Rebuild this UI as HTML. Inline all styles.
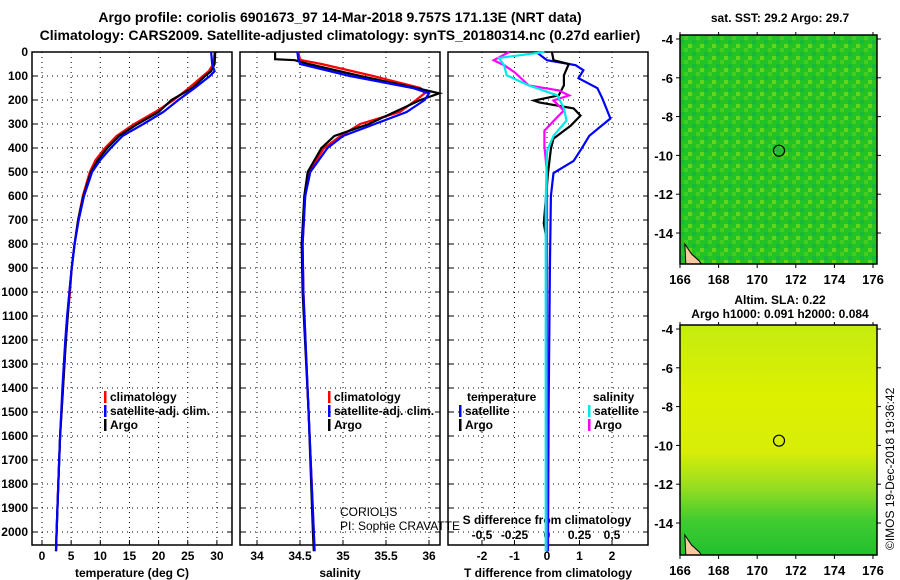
<!DOCTYPE html>
<html><head><meta charset="utf-8"><style>
body{margin:0;background:#fff}
svg{display:block;font-family:"Liberation Sans",sans-serif;font-weight:bold}
</style></head><body>
<svg id="s" width="900" height="580" viewBox="0 0 900 580" xmlns="http://www.w3.org/2000/svg">
<defs>
<linearGradient id="sla" x1="0" y1="0" x2="0" y2="1">
<stop offset="0" stop-color="#c4ec10"/><stop offset="0.3" stop-color="#dcf000"/><stop offset="0.55" stop-color="#d8ee08"/><stop offset="0.7" stop-color="#9ade20"/><stop offset="0.85" stop-color="#40cc30"/><stop offset="1" stop-color="#20c030"/>
</linearGradient>
<pattern id="sstp" width="12" height="12" patternUnits="userSpaceOnUse">
<rect width="12" height="12" fill="#22c322"/><rect x="0" y="0" width="4" height="4" fill="#44cc22"/><rect x="8" y="4" width="4" height="4" fill="#18b840"/><rect x="4" y="8" width="4" height="4" fill="#66d41c"/>
</pattern>
</defs>
<text x="340" y="22" text-anchor="middle" font-size="14">Argo profile: coriolis 6901673_97 14-Mar-2018 9.757S 171.13E (NRT data)</text>
<text x="340" y="40" text-anchor="middle" font-size="14">Climatology: CARS2009. Satellite-adjusted climatology: synTS_20180314.nc (0.27d earlier)</text>
<g id="g"></g>
</svg>
<script>
// depth axis
const depthTicks=[0,100,200,300,400,500,600,700,800,900,1000,1100,1200,1300,1400,1500,1600,1700,1800,1900,2000];
// temperature profiles
const tDepth=[0,50,80,100,150,200,250,300,350,400,450,500,600,700,800,900,1000,1100,1200,1400,1600,1800,2000,2080];
const tClim=[29.6,29.4,28.6,27.6,25.2,22.6,19.4,15.8,12.8,10.8,9.2,8.2,7.0,6.2,5.6,5.1,4.8,4.4,4.1,3.6,3.1,2.8,2.5,2.4];
const tSat=[29.0,29.2,29.6,28.8,26.2,23.4,20.8,17.4,13.8,11.8,10.0,8.6,7.2,6.3,5.6,5.1,4.7,4.3,4.0,3.5,3.1,2.8,2.5,2.4];
const tArgo=[29.7,29.6,29.0,28.0,25.8,22.2,20.0,16.4,13.2,11.2,9.6,8.4,7.1,6.2,5.6,5.1,4.7,4.4,4.1,3.6,3.1,2.8,2.5,2.4];
// salinity profiles
const sDepth=[0,30,34,50,100,150,172,200,250,300,350,400,500,600,800,1000,1500,2000,2080];
const sClim=[34.48,34.5,34.52,34.75,35.35,35.9,35.95,35.85,35.66,35.2,34.97,34.78,34.6,34.56,34.53,34.54,34.6,34.66,34.67];
const sSat=[34.47,34.48,34.49,34.5,35.08,35.81,36.0,35.95,35.74,35.37,35.0,34.82,34.62,34.56,34.53,34.54,34.6,34.66,34.67];
const sArgo=[34.21,34.21,34.44,34.6,35.2,35.85,36.12,35.9,35.6,35.3,34.9,34.75,34.59,34.55,34.52,34.53,34.6,34.65,34.66];
// difference profiles
const dTsDepth=[0,34,55,76,109,151,193,277,349,403,454,504,600,900,1500,2080];
const dTsat=[-0.33,0,0.88,1.12,0.97,1.55,1.7,1.95,1.3,1.06,0.82,0.2,0.12,0.09,0.05,0.03];
const dTaDepth=[0,34,50,97,139,181,202,210,235,265,307,361,403,504,714,790,1200,1700,2080];
const dTargo=[0.15,0.2,0.67,0.52,0.52,0.36,-0.4,-0.24,0.82,1.03,0.73,0.2,0.12,0.03,-0.1,0,0,-0.02,0];
const dSaDepth=[0,34,55,84,139,160,181,202,244,265,328,391,504,832,2080];
const dSargo=[-0.29,-0.41,-0.33,-0.25,-0.14,0.09,0.17,0.05,0.13,0.09,-0.02,-0.02,0,0,0];
const dSsDepth=[0,25,55,97,139,181,235,286,349,412,622,2080];
const dSsat=[-0.02,-0.37,-0.33,-0.31,-0.14,0.08,0.13,0.15,0.05,0,-0.01,-0.01];
const xTicksT=[0,5,10,15,20,25,30];
const xTicksS=[34,34.5,35,35.5,36];
const xTicksD=[-2,-1,0,1,2];
const xTicksDS=["-0,5","-0.25","0","0.25","0,5"];

const NS="http://www.w3.org/2000/svg",G=document.getElementById('g');
function el(t,a,p){const e=document.createElementNS(NS,t);for(const k in a)e.setAttribute(k,a[k]);(p||G).appendChild(e);return e;}
const yD=d=>52+d*0.24;
const TOP=52,BOT=545;
const panels=[{x0:32,x1:232,sx:v=>42+v*5.83},{x0:240,x1:440,sx:v=>257+(v-34)*86},{x0:448,x1:648,sx:v=>547+v*32.5}];
function frame(p,ticks,name){
  const g=el('g',{});
  ticks.forEach(t=>{const x=p.sx(t);const l=el('line',{x1:x,x2:x,y1:TOP,y2:BOT,stroke:'#000','stroke-dasharray':'1 4','stroke-width':1},g);
    const tk=el('line',{x1:x,x2:x,y1:BOT,y2:BOT-5,stroke:'#000'},g);});
  depthTicks.forEach(d=>{const y=yD(d);const l=el('line',{x1:p.x0,x2:p.x1,y1:y,y2:y,stroke:'#000','stroke-dasharray':'1 4'},g);
    el('line',{x1:p.x0,x2:p.x0+5,y1:y,y2:y,stroke:'#000'},g);el('line',{x1:p.x1,x2:p.x1-5,y1:y,y2:y,stroke:'#000'},g);});
  const r=el('rect',{x:p.x0,y:TOP,width:p.x1-p.x0,height:BOT-TOP,fill:'none',stroke:'#000','stroke-width':1.5},g);
  return g;
}
function line(p,depths,vals,col,name,w){
  const pts=depths.map((d,i)=>p.sx(vals[i]).toFixed(1)+','+yD(d).toFixed(1)).join(' ');
  const l=el('polyline',{points:pts,fill:'none',stroke:col,'stroke-width':w||2.2});
  
  
}
function txt(x,y,s,o,name){const t=el('text',Object.assign({x:x,y:y,'font-size':12},o||{}));t.textContent=s;return t;}
function legend(x,y,col,s,name){const m=el('rect',{x:x,y:y-10,width:2.5,height:12,fill:col});txt(x+6,y,s,{},name);}

frame(panels[0],xTicksT,'temperature-panel');
frame(panels[1],xTicksS,'salinity-panel');
frame(panels[2],xTicksD,'difference-panel');
depthTicks.forEach(d=>txt(28,yD(d)+4,String(d),{'text-anchor':'end'},'y-tick-label'));
xTicksT.forEach(t=>txt(panels[0].sx(t),560,String(t),{'text-anchor':'middle'},'x-tick-label'));
xTicksS.forEach(t=>txt(panels[1].sx(t),560,String(t),{'text-anchor':'middle'},'x-tick-label'));
xTicksD.forEach(t=>txt(panels[2].sx(t),560,String(t),{'text-anchor':'middle'},'x-tick-label'));
xTicksD.forEach((t,i)=>txt(panels[2].sx(t),539,xTicksDS[i],{'text-anchor':'middle'},'s-tick-label'));
txt(132,577,'temperature (deg C)',{'text-anchor':'middle'},'x-axis-title');
txt(340,577,'salinity',{'text-anchor':'middle'},'x-axis-title');
txt(548,577,'T difference from climatology',{'text-anchor':'middle'},'x-axis-title');
txt(547,524,'S difference from climatology',{'text-anchor':'middle'},'s-axis-title');

line(panels[0],tDepth,tClim,'#ff0000','temp-climatology-line');
line(panels[0],tDepth,tArgo,'#000000','temp-argo-line');
line(panels[0],tDepth,tSat,'#0000ff','temp-satellite-line');
line(panels[1],sDepth,sClim,'#ff0000','sal-climatology-line');
line(panels[1],sDepth,sArgo,'#000000','sal-argo-line');
line(panels[1],sDepth,sSat,'#0000ff','sal-satellite-line');
const pS={sx:v=>547+v*130};
line(panels[2],dTsDepth,dTsat,'#0000ff','dT-satellite-line');
line(panels[2],dTaDepth,dTargo,'#000000','dT-argo-line');
line(pS,dSaDepth,dSargo,'#ff00ff','dS-argo-line');
line(pS,dSsDepth,dSsat,'#00e8e8','dS-satellite-line');

legend(104,401,'#ff0000','climatology','legend-climatology');
legend(104,415,'#0000ff','satellite-adj. clim.','legend-satellite');
legend(104,429,'#000000','Argo','legend-argo');
legend(328,401,'#ff0000','climatology','legend-climatology');
legend(328,415,'#0000ff','satellite-adj. clim.','legend-satellite');
legend(328,429,'#000000','Argo','legend-argo');
txt(467,401,'temperature',{},'legend-temperature-title');
legend(459,415,'#0000ff','satellite','legend-t-satellite');
legend(459,429,'#000000','Argo','legend-t-argo');
txt(593,401,'salinity',{},'legend-salinity-title');
legend(588,415,'#00e8e8','satellite','legend-s-satellite');
legend(588,429,'#ff00ff','Argo','legend-s-argo');
txt(340,516,'CORIOLIS',{'font-weight':'normal'},'institution-label');
txt(340,530,'PI: Sophie CRAVATTE',{'font-weight':'normal'},'pi-label');

// maps
const lonTicks=[166,168,170,172,174,176];
const latTicks=[-4,-6,-8,-10,-12,-14];
const argoLon=171.13, argoLat=-9.757;
function map(y0,y1,latTop,fill,name){
  const sx=v=>680+(v-166)*19.3, sy=v=>latTop+(-4-v)*19.4;
  const g=el('g',{});
  const r=el('rect',{x:680,y:y0,width:197,height:y1-y0,fill:fill},g);
  el('path',{d:`M${sx(166.3)} ${y1} L${sx(166.25)} ${y1-20} L${sx(166.6)} ${y1-10} L${sx(167)} ${y1-3} L${sx(167.1)} ${y1} Z`,fill:'#f8c8a0',stroke:'#000'},g);
  el('rect',{x:680,y:y0,width:197,height:y1-y0,fill:'none',stroke:'#000','stroke-width':1.5},g);
  lonTicks.forEach(t=>{el('line',{x1:sx(t),x2:sx(t),y1:y1,y2:y1+4,stroke:'#000'},g);el('line',{x1:sx(t),x2:sx(t),y1:y0,y2:y0-3,stroke:'#000'},g);txt(sx(t),y1+20,String(t),{'text-anchor':'middle','font-size':13},'lon-tick-label');});
  latTicks.forEach(t=>{el('line',{x1:676,x2:680,y1:sy(t),y2:sy(t),stroke:'#000'},g);el('line',{x1:877,x2:881,y1:sy(t),y2:sy(t),stroke:'#000'},g);txt(673,sy(t)+5,String(t),{'text-anchor':'end','font-size':13},'lat-tick-label');});
  const c=el('circle',{cx:sx(argoLon),cy:sy(argoLat),r:5.5,fill:'none',stroke:'#000','stroke-width':1.2},g);
}
map(35,264,39,'url(#sstp)','sst-map');
map(325,555,329,'url(#sla)','sla-map');
txt(780,22,'sat. SST: 29.2 Argo: 29.7',{'text-anchor':'middle'},'sst-map-title');
txt(780,304,'Altim. SLA: 0.22',{'text-anchor':'middle'},'sla-map-title');
txt(780,318,'Argo h1000: 0.091 h2000: 0.084',{'text-anchor':'middle'},'sla-map-subtitle');
txt(894,550,'©IMOS 19-Dec-2018 19:36:42',{'transform':'rotate(-90 894 550)','font-weight':'normal','font-size':12},'copyright-label');
</script>
</body></html>
